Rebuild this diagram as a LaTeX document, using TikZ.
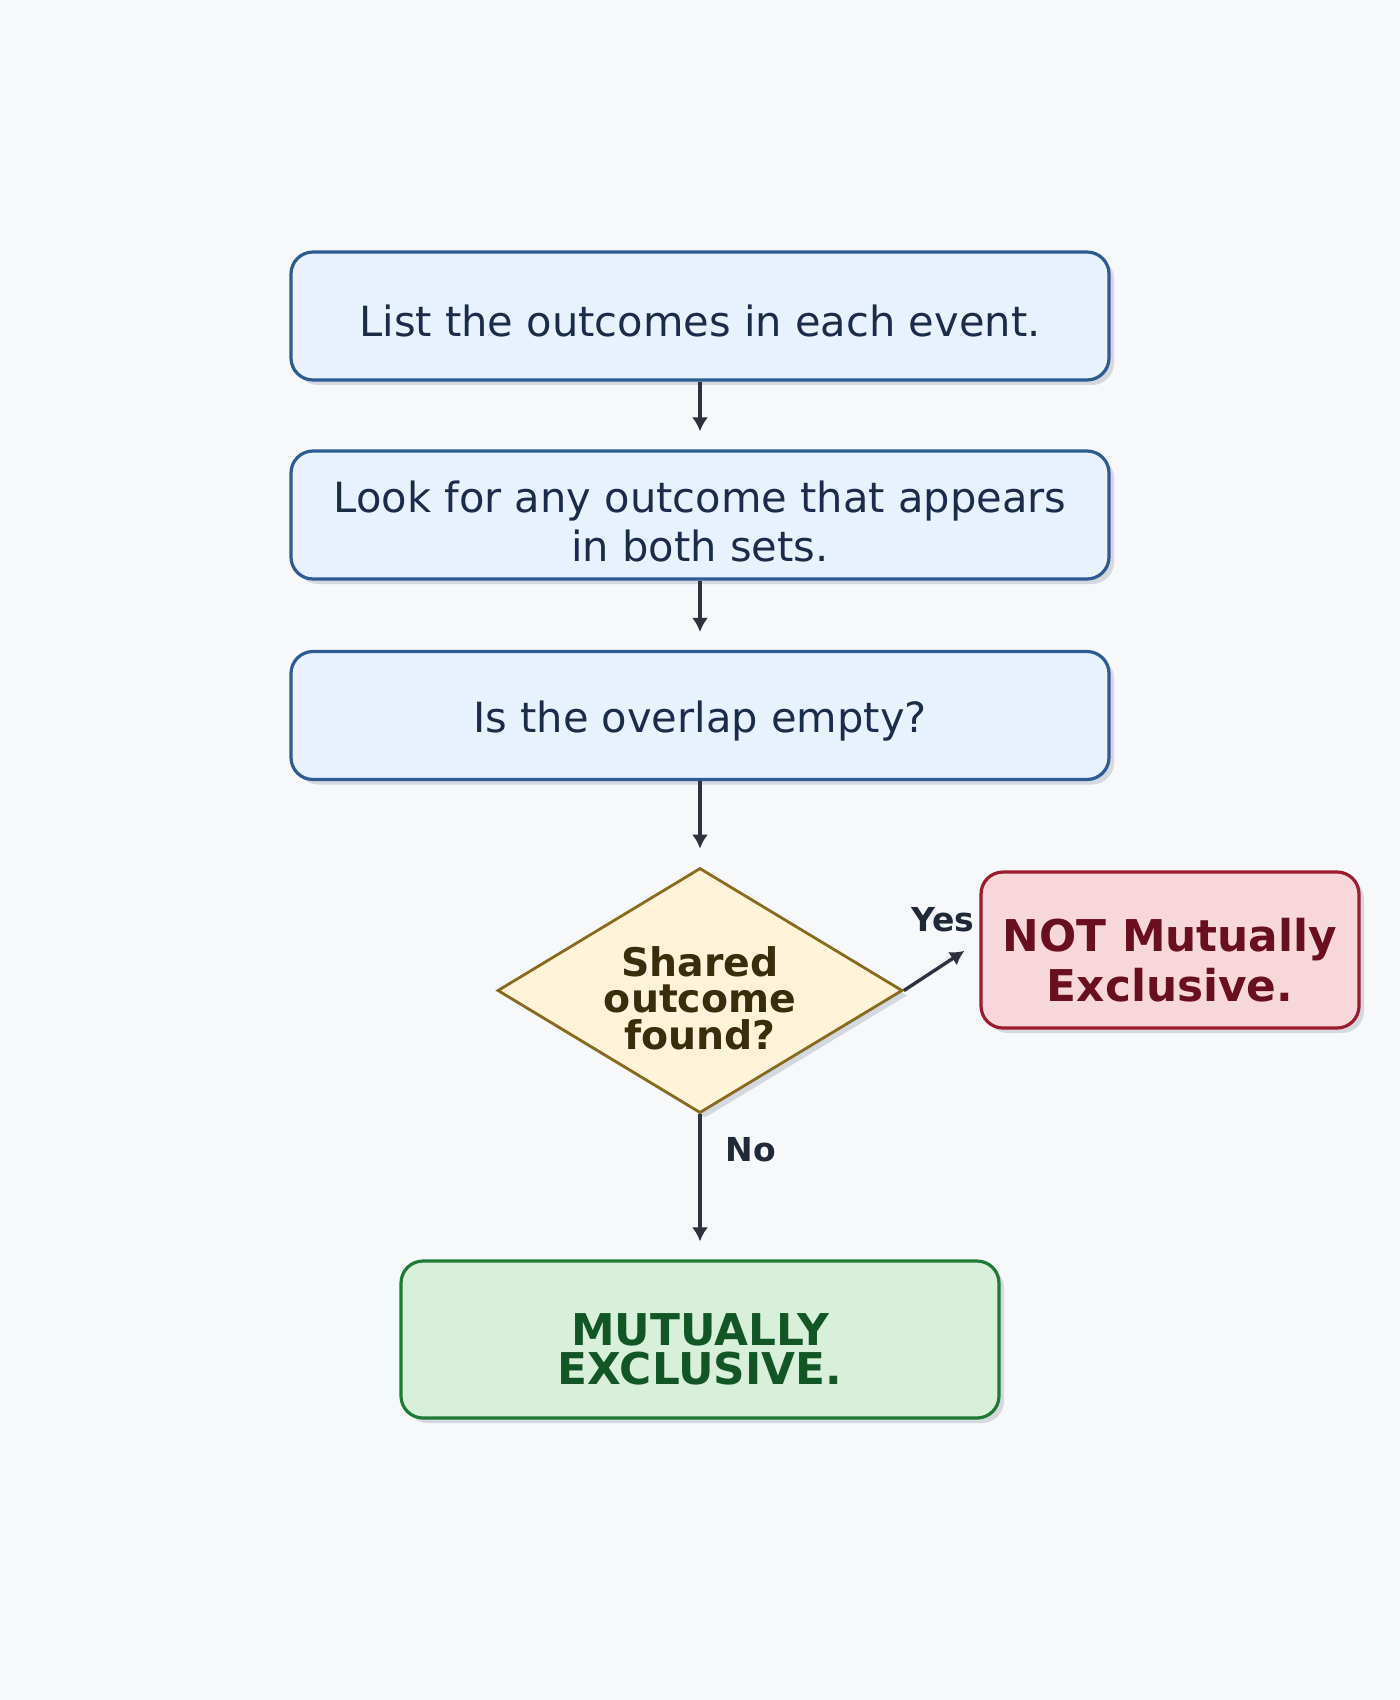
\documentclass[tikz,border=0pt]{standalone}
\usepackage{fontspec}
\setmainfont{DejaVu Sans}
\usetikzlibrary{shapes.geometric,shadows,arrows.meta}
\definecolor{bgpage}{HTML}{F7F8FA}
\definecolor{stepfill}{HTML}{E8F1FE}
\definecolor{stepline}{HTML}{2D5B94}
\definecolor{steptext}{HTML}{1B2B4B}
\definecolor{askfill}{HTML}{FFF4D9}
\definecolor{askline}{HTML}{8A6A1F}
\definecolor{asktext}{HTML}{3B2C0B}
\definecolor{notfill}{HTML}{F8D7DA}
\definecolor{notline}{HTML}{9C1B2D}
\definecolor{nottext}{HTML}{6A0F20}
\definecolor{mexfill}{HTML}{D8EFDA}
\definecolor{mexline}{HTML}{1F7A35}
\definecolor{mextext}{HTML}{135626}
\definecolor{arrowc}{HTML}{2E3140}
\definecolor{labelc}{HTML}{1F2937}
\definecolor{shade}{HTML}{D4D8DF}
\begin{document}
\begin{tikzpicture}[x=0.5pt,y=-0.5pt,
    box/.style={draw, line width=1.6pt, rounded corners=11pt, align=center, inner sep=0pt,
      drop shadow={shadow xshift=2.5pt,shadow yshift=-2.5pt,fill=shade,opacity=1}},
    stepbox/.style={box, fill=stepfill, draw=stepline, text=steptext, text height=21.2pt,
      minimum width=409pt, minimum height=64pt, font=\fontsize{20.8}{24.5}\selectfont},
    askbox/.style={diamond, shape aspect=1.65, minimum width=202.5pt, minimum height=122.5pt,
      inner sep=0pt, align=center, fill=askfill, draw=askline, line width=1.4pt, text=asktext,
      text height=59.3pt, font=\fontsize{19.7}{18.3}\selectfont\bfseries,
      drop shadow={shadow xshift=2.5pt,shadow yshift=-2.5pt,fill=shade,opacity=1}},
    notbox/.style={box, fill=notfill, draw=notline, text=nottext, text height=51.8pt,
      minimum width=189pt, minimum height=78pt, font=\fontsize{21.9}{25}\selectfont\bfseries},
    mexbox/.style={box, fill=mexfill, draw=mexline, text=mextext, text height=45.3pt,
      minimum width=299pt, minimum height=78.5pt, font=\fontsize{21.9}{19.5}\selectfont\bfseries},
    flow/.style={draw=arrowc, line width=1.7pt, -{Latex[length=7pt,width=8pt]}, shorten >=9pt},
    lbl/.style={text=labelc, font=\fontsize{16.5}{19}\selectfont\bfseries}]
  \fill[bgpage] (0,0) rectangle (1400,1700);
  \useasboundingbox (0,0) rectangle (1400,1700);
  \node[stepbox] (list) at (700,316) {List the outcomes in each event.};
  \node[stepbox, text height=46.8pt] (look) at (700,515) {Look for any outcome that appears\\in both sets.};
  \node[stepbox] (empty) at (700,715.5) {Is the overlap empty?};
  \node[askbox] (shared) at (700,990.5) {Shared\\outcome\\found?};
  \node[notbox] (notme) at (1170,950) {NOT Mutually\\Exclusive.};
  \node[mexbox] (mutex) at (700,1339.5) {MUTUALLY\\EXCLUSIVE.};
  \draw[flow] (list) -- (look);
  \draw[flow] (look) -- (empty);
  \draw[flow] (empty) -- (shared);
  \draw[flow] (shared.east) -- ([yshift=4.5pt]notme.west);
  \draw[flow] (shared.south) -- (mutex.north);
  \node[lbl] (yes) at (943,920) {Yes};
  \node[lbl] (no) at (751,1150) {No};
\end{tikzpicture}
\end{document}
